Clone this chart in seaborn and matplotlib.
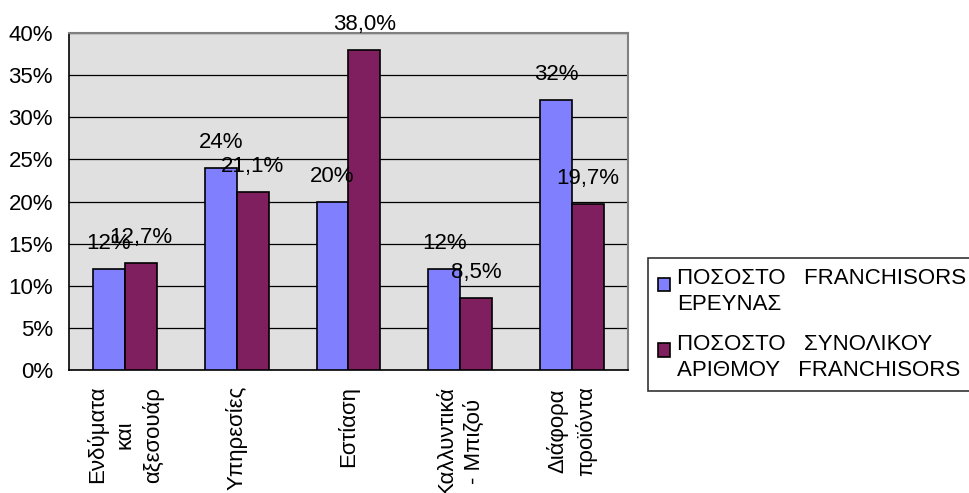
import numpy as np
import pandas as pd
import matplotlib
matplotlib.use("Agg")
import matplotlib.pyplot as plt
import seaborn as sns
from matplotlib.ticker import FuncFormatter, FixedLocator
from matplotlib.patches import Rectangle
from matplotlib.legend_handler import HandlerPatch

# Δεδομένα
kathgories = ["Ενδύματα\nκαι\nαξεσουάρ", "Υπηρεσίες", "Εστίαση",
              "Καλλυντικά\n- Μπιζού", "Διάφορα\nπροϊόντα"]
seira_erevnas = [0.12, 0.24, 0.20, 0.12, 0.32]
seira_synolikou = [0.127, 0.211, 0.380, 0.085, 0.197]
etiketes_erevnas = ["12%", "24%", "20%", "12%", "32%"]
etiketes_synolikou = ["12,7%", "21,1%", "38,0%", "8,5%", "19,7%"]
onomata_seiron = ["ΠΟΣΟΣΤΟ   FRANCHISORS\nΕΡΕΥΝΑΣ",
                  "ΠΟΣΟΣΤΟ   ΣΥΝΟΛΙΚΟΥ\nΑΡΙΘΜΟΥ   FRANCHISORS"]

df = pd.DataFrame({
    "kathgoria": kathgories * 2,
    "timh": seira_erevnas + seira_synolikou,
    "seira": [onomata_seiron[0]] * 5 + [onomata_seiron[1]] * 5,
})

sns.set_style("white")
plt.rcParams["font.family"] = ["Liberation Sans", "DejaVu Sans"]
plt.rcParams["text.color"] = "black"
plt.rcParams["ytick.labelcolor"] = "black"
FS = 16

fig = plt.figure(figsize=(9.69, 4.93), dpi=100)
ax = fig.add_axes([0.0712, 0.2495, 0.5768, 0.6835])

sns.barplot(data=df, x="kathgoria", y="timh", hue="seira",
            palette=["#8080ff", "#7f1f5f"], width=0.57,
            edgecolor="black", linewidth=1.2, saturation=1,
            order=kathgories, hue_order=onomata_seiron, ax=ax, zorder=3)

ax.set_facecolor("#e0e0e0")
ax.set_ylim(0, 0.40)
ax.set_xlim(-0.5, 4.5)
ax.yaxis.set_major_locator(FixedLocator(np.arange(0, 0.401, 0.05)))
ax.yaxis.set_major_formatter(FuncFormatter(lambda v, p: f"{round(v * 100)}%"))
ax.grid(axis="y", color="black", linewidth=0.9, zorder=0)
ax.set_axisbelow(True)
ax.set_xlabel("")
ax.set_ylabel("")

# ετικέτες κατηγοριών και γραμμές υποδιαίρεσης
ax.set_xticks(np.arange(-0.5, 5, 1.0))
ax.set_xticklabels([])
ax.tick_params(axis="x", direction="inout", length=10, width=1, color="black")
ax.tick_params(axis="y", direction="out", length=6, width=1, color="black",
               labelsize=FS, pad=5.5)
for i, lab in enumerate(kathgories):
    ax.annotate(lab, (i, 0), xytext=(0, -16), textcoords="offset pixels",
                rotation=90, ha="center", va="top", fontsize=FS,
                multialignment="center", linespacing=1.4,
                annotation_clip=False)

for side in ["left", "bottom"]:
    ax.spines[side].set_color("black")
    ax.spines[side].set_linewidth(1.2)
for side in ["top", "right"]:
    ax.spines[side].set_visible(True)
    ax.spines[side].set_color("#808080")
    ax.spines[side].set_linewidth(1.5)

# ετικέτες τιμών
for cont, labs in zip(ax.containers, [etiketes_erevnas, etiketes_synolikou]):
    for bar, txt in zip(cont, labs):
        ax.annotate(txt, (bar.get_x() + bar.get_width() / 2, bar.get_height()),
                    xytext=(0, 20), textcoords="offset pixels",
                    ha="center", va="baseline", fontsize=FS, zorder=5,
                    annotation_clip=False)


# τετράγωνο υπομνήματος στην πρώτη γραμμή του κειμένου
def tetragono(legend, orig_handle, xdescent, ydescent, width, height, fontsize):
    return Rectangle((-xdescent, 0.4 * fontsize), width, height)


ax.get_legend().remove()
handles, labels = ax.get_legend_handles_labels()
leg = fig.legend(handles[:2], labels[:2], loc="upper left",
                 bbox_to_anchor=(0.669, 0.476 - 0.3, 0.4, 0.3), mode="expand",
                 fontsize=FS, frameon=True, fancybox=False, edgecolor="black",
                 handlelength=0.54, handleheight=0.54, handletextpad=0.3,
                 labelspacing=0.85, borderpad=0.45, borderaxespad=0,
                 handler_map={h: HandlerPatch(patch_func=tetragono) for h in handles[:2]})
leg.get_frame().set_linewidth(1.2)
for t in leg.get_texts():
    t.set_linespacing(1.3)

fig.savefig("out.png", dpi=100)
